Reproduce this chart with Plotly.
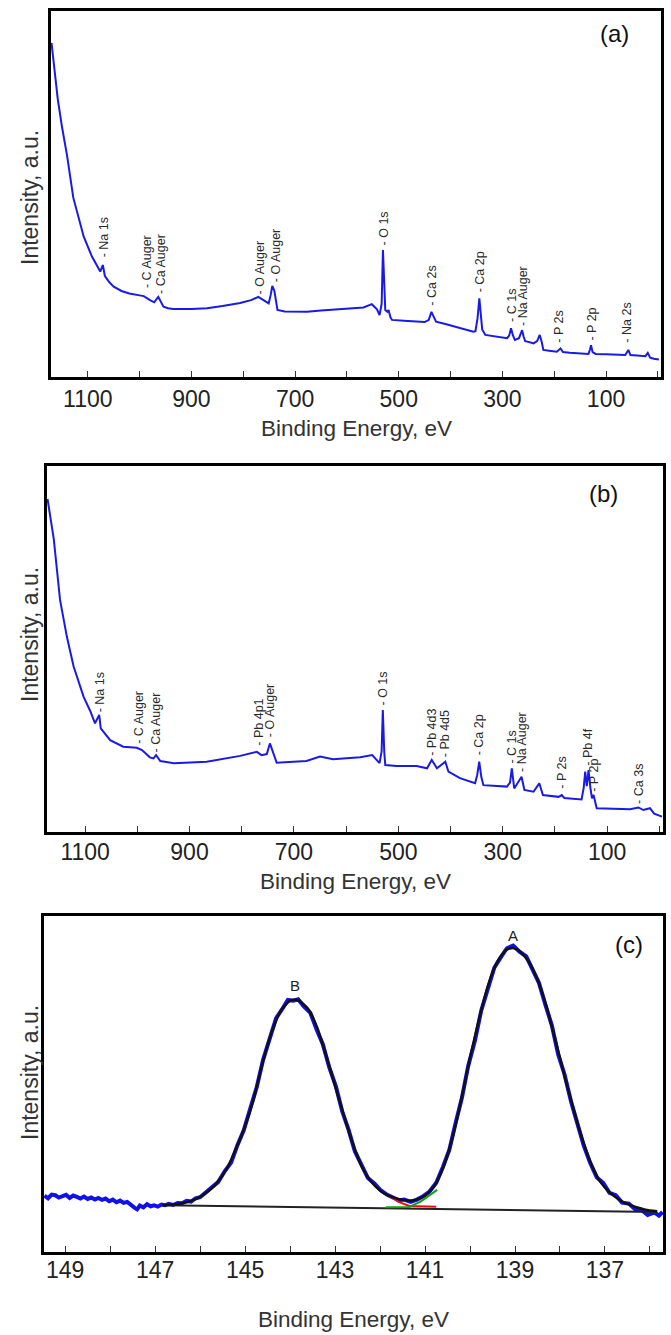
import plotly.graph_objects as go

W, H = 671, 1335

# ---------------- Panel (a) survey spectrum ----------------
be_a = [1170, 1165, 1158, 1150, 1140, 1128, 1120, 1108, 1092, 1080, 1076, 1071, 1067, 1058, 1050,
        1035, 1020, 1000, 992, 980, 972, 964, 958, 954, 945, 935, 900, 870, 840, 806, 785, 771,
        761, 751, 747, 744, 740, 734, 720, 700, 677, 650, 620, 590, 568, 552, 542, 537, 533,
        530.5, 528, 526, 522, 519.7, 516, 513, 490, 465, 450, 442, 437, 432, 428, 410, 388, 370,
        356, 352, 348, 344.5, 342, 339, 333, 310, 291, 287, 283.4, 280, 276, 268, 262, 259, 256,
        250, 240, 233, 228, 224, 221, 210, 195, 188, 183, 170, 150, 134, 131, 129, 126, 120, 100,
        80, 63, 57, 53, 40, 24, 19.5, 15, 8, -2]
int_a = [91.3, 85, 76, 68.5, 60.5, 49, 44.7, 38.4, 32.9, 29.8, 28.8, 30.6, 27.6, 25.8, 24.7,
         23.5, 22.8, 22.3, 22.1, 21.0, 20.4, 21.9, 20.2, 19.2, 18.8, 18.6, 18.6, 18.8, 19.4, 20.2,
         21.0, 21.9, 21.0, 20.1, 22.5, 24.9, 23.5, 18.3, 17.9, 17.8, 17.8, 18.2, 18.5, 18.8, 19.0,
         19.9, 18.5, 16.9, 20, 34.7, 25, 18.3, 17.8, 18.3, 16.3, 15.6, 15.4, 15.1, 15.0, 15.6, 17.8,
         16.3, 15.1, 14.5, 13.7, 13.0, 12.4, 12.5, 16, 21.5, 17, 13, 11.5, 11.0, 10.6, 11.3, 13.3,
         11.5, 10.1, 10.6, 12.8, 11.0, 9.8, 9.6, 9.2, 9.8, 11.5, 9.5, 7.4, 7.2, 6.9, 7.8, 6.8, 6.6,
         6.4, 6.3, 7.5, 8.7, 6.8, 6.3, 6.2, 6.1, 6.0, 7.4, 6.0, 5.9, 5.7, 6.6, 5.3, 5.0, 4.8]

lab_a = ["Na 1s", "C Auger", "Ca Auger", "O Auger", "O Auger", "O 1s", "Ca 2s", "Ca 2p",
         "C 1s", "Na Auger", "P 2s", "P 2p", "Na 2s"]
lab_a_x = [1067, 987, 959, 767, 737, 529, 436, 344, 283, 260, 190, 128, 59]
lab_a_y = [32.4, 24.0, 22.4, 22.4, 25.6, 35.6, 19.2, 22.9, 14.7, 13.7, 9.2, 9.7, 9.2]

# ---------------- Panel (b) survey spectrum ----------------
be_b = [1172, 1160, 1148, 1135, 1122, 1103, 1090, 1081, 1073, 1070, 1052, 1027, 1001, 991,
        976, 969, 964, 956, 930, 867, 803, 771, 762, 752, 746, 740, 733, 676, 650, 625, 573,
        550, 536, 532, 529.7, 527, 525, 503, 465, 445, 436, 426, 410, 404, 382, 353, 349, 345,
        341, 337, 292, 286, 282.6, 278, 264, 258.5, 241, 230, 223, 193, 187, 182, 149, 145, 142,
        139, 135.6, 132, 129, 126, 122, 120, 56, 40, 30.5, 18, 10, -5]
int_b = [91.0, 80.0, 63.4, 53.4, 45.2, 37.0, 33.0, 29.7, 32.0, 28.3, 25.1, 23.3, 23.0, 22.4,
         20.4, 20.1, 21.0, 19.4, 18.8, 19.2, 20.8, 21.9, 21.0, 21.3, 24.2, 21.5, 18.9, 19.4,
         20.6, 19.9, 20.4, 21.0, 18.8, 22, 33.3, 22, 18.3, 18.0, 18.0, 17.4, 19.7, 17.4, 19.2,
         16.5, 14.7, 13.3, 15.5, 19.2, 15, 12.8, 12.4, 13.5, 17.4, 11.9, 15.1, 11.5, 11.0, 13.3,
         10.1, 9.6, 10.1, 9.3, 8.9, 12, 16.5, 12.5, 16.9, 12, 9.2, 10.1, 7.5, 6.5, 6.2, 6.7, 6.0,
         6.5, 5.0, 4.2]

lab_b = ["Na 1s", "C Auger", "Ca Auger", "Pb 4p1", "O Auger", "O 1s", "Pb 4d3", "Pb 4d5",
         "Ca 2p", "C 1s", "Na Auger", "P 2s", "Pb 4f", "P 2p", "Ca 3s"]
lab_b_x = [1071, 996, 964, 766, 746, 530, 436, 410, 345, 284, 262, 187, 136, 125, 39]
lab_b_y = [32.5, 23.8, 21.5, 23.3, 25.6, 34.2, 20.6, 20.1, 20.6, 18.3, 16.0, 11.5, 17.8, 10.6, 7.4]

# ---------------- Panel (c) Pb 4f high resolution ----------------
be_c = [149.46, 149.38, 149.30, 149.22, 149.14, 149.06, 148.98, 148.90, 148.82, 148.74, 148.66,
        148.58, 148.50, 148.42, 148.34, 148.26, 148.18, 148.10, 148.02, 147.94, 147.86, 147.78,
        147.70, 147.62, 147.54, 147.46, 147.40, 147.34, 147.26, 147.18, 147.10, 147.02, 146.94,
        146.86, 146.78, 146.70, 146.60, 146.50, 146.40, 146.30, 146.20, 146.10, 146.00, 145.88,
        145.75, 145.60, 145.45, 145.31, 145.17, 145.03, 144.88, 144.74, 144.60, 144.46, 144.31,
        144.17, 144.05, 143.93, 143.82, 143.70, 143.55, 143.41, 143.27, 143.13, 142.98, 142.84,
        142.70, 142.56, 142.42, 142.27, 142.12, 141.98, 141.84, 141.70, 141.58, 141.46, 141.32,
        141.18, 141.04, 140.90, 140.75, 140.60, 140.46, 140.32, 140.18, 140.04, 139.89, 139.75,
        139.61, 139.46, 139.32, 139.18, 139.04, 138.90, 138.75, 138.61, 138.47, 138.32, 138.18,
        138.04, 137.90, 137.75, 137.61, 137.47, 137.33, 137.18, 137.04, 136.90, 136.76, 136.62,
        136.47, 136.33, 136.19, 136.05, 135.90, 135.80, 135.72]
int_c = [16.8, 16.0, 17.1, 16.9, 16.2, 16.6, 17.0, 16.1, 16.8, 16.4, 15.9, 16.5, 15.8, 16.2,
         15.6, 16.1, 15.5, 15.9, 15.1, 15.6, 14.8, 15.3, 14.6, 14.9, 13.9, 13.2, 12.7, 13.8, 13.3,
         14.2, 13.6, 13.9, 13.5, 14.1, 13.9, 14.3, 14.0, 14.6, 14.5, 15.2, 15.0, 16.0, 16.3, 17.6,
         19.3, 20.8, 24.1, 26.6, 31.8, 36.2, 42.9, 49.1, 57.2, 63.1, 69.6, 72.4, 75.0, 74.8, 75.2,
         73.2, 71.2, 66.2, 61.8, 55.0, 49.2, 41.8, 36.4, 30.0, 26.2, 22.0, 20.3, 18.3, 17.0, 16.3,
         15.4, 15.6, 14.9, 15.6, 16.6, 18.0, 20.6, 25.4, 30.4, 38.4, 45.9, 55.4, 62.9, 71.9, 78.4,
         84.6, 87.6, 90.4, 91.2, 89.4, 88.0, 84.0, 80.2, 73.4, 67.4, 58.8, 52.9, 44.6, 38.4, 31.6,
         26.6, 22.2, 20.6, 17.6, 16.9, 14.7, 14.4, 12.7, 12.5, 11.0, 11.8, 10.8, 11.9]

be_fit = [146.83, 146.6, 146.4, 146.2, 146.0, 145.8, 145.6, 145.4, 145.2, 145.0, 144.8, 144.6,
          144.4, 144.2, 144.0, 143.9, 143.8, 143.6, 143.4, 143.2, 143.0, 142.8, 142.6, 142.4,
          142.2, 142.0, 141.8, 141.6, 141.4, 141.3, 141.2, 141.0, 140.8, 140.6, 140.4, 140.2,
          140.0, 139.8, 139.6, 139.4, 139.2, 139.05, 138.9, 138.7, 138.5, 138.3, 138.1, 137.9,
          137.7, 137.5, 137.3, 137.1, 136.9, 136.7, 136.5, 136.3, 136.1, 135.84]
int_fit = [13.9, 14.1, 14.5, 15.2, 16.4, 18.3, 21.0, 25.0, 30.8, 37.5, 46.0, 56.8, 65.8, 72.0,
           74.8, 75.1, 74.8, 72.4, 66.9, 58.5, 49.5, 40.5, 32.0, 25.3, 21.0, 18.3, 16.7, 15.8,
           15.3, 15.3, 15.6, 16.8, 19.5, 25.0, 33.5, 45.0, 57.8, 69.2, 79.3, 86.2, 89.9, 90.5,
           89.6, 86.5, 81.0, 73.0, 63.0, 52.5, 42.5, 33.5, 26.0, 20.8, 17.8, 15.7, 14.3, 13.3,
           12.6, 12.1]

be_bg = [146.83, 135.84]
int_bg = [13.9, 11.9]

be_compB = [141.95, 141.83, 141.6, 141.35, 140.75]
int_compB = [17.8, 17.0, 15.0, 13.7, 13.5]
be_compA = [141.87, 141.35, 141.1, 140.9, 140.73]
int_compA = [13.3, 13.4, 15.0, 16.8, 18.5]

peak_names = ["A", "B"]
peak_x = [139.04, 143.9]
peak_y = [94.3, 79.2]

panel_tags = ["(a)", "(b)", "(c)"]

# ---------------- layout geometry (pixels) ----------------
boxes = {  # left, right, top, bottom
    1: (51, 661, 11, 377),
    2: (47, 663, 466, 832),
    3: (44, 663, 916, 1252),
}

FONT = "Arial, Liberation Sans, Helvetica, sans-serif"
BLUE = "#1a1ae6"

fig = go.Figure()

fig.add_trace(go.Scatter(x=be_a, y=int_a, mode="lines", line=dict(color=BLUE, width=2),
                         xaxis="x", yaxis="y", showlegend=False))
fig.add_trace(go.Scatter(x=be_b, y=int_b, mode="lines", line=dict(color=BLUE, width=2),
                         xaxis="x2", yaxis="y2", showlegend=False))
fig.add_trace(go.Scatter(x=be_c, y=int_c, mode="lines", line=dict(color="#1010e8", width=4),
                         xaxis="x3", yaxis="y3", showlegend=False))
fig.add_trace(go.Scatter(x=be_bg, y=int_bg, mode="lines", line=dict(color="#222222", width=2),
                         xaxis="x3", yaxis="y3", showlegend=False))
fig.add_trace(go.Scatter(x=be_compB, y=int_compB, mode="lines", line=dict(color="#e01010", width=2),
                         xaxis="x3", yaxis="y3", showlegend=False))
fig.add_trace(go.Scatter(x=be_compA, y=int_compA, mode="lines", line=dict(color="#10a010", width=2),
                         xaxis="x3", yaxis="y3", showlegend=False))
fig.add_trace(go.Scatter(x=be_fit, y=int_fit, mode="lines",
                         line=dict(color="#111111", width=2.5, shape="spline", smoothing=0.6),
                         xaxis="x3", yaxis="y3", showlegend=False))


def px_x(p):
    return p / W


def px_y(p):
    return 1 - p / H


def xaxis_cfg(k, rng, dtick, tick0, minor_dtick, standoff=0):
    l, r, t, b = boxes[k]
    return dict(domain=[px_x(l), px_x(r)], range=rng, anchor="y" if k == 1 else f"y{k}",
                showline=True, linewidth=3, linecolor="black", mirror=True,
                showgrid=False, zeroline=False,
                ticks="inside", ticklen=6, tickwidth=1.3, tickcolor="#333",
                dtick=dtick, tick0=tick0, ticklabelstandoff=standoff,
                minor=dict(dtick=minor_dtick, tick0=tick0, ticks="inside", ticklen=6,
                           tickwidth=1.3, tickcolor="#333", showgrid=False),
                tickfont=dict(family=FONT, size=23, color="#222"),
                automargin=False)


def yaxis_cfg(k):
    l, r, t, b = boxes[k]
    return dict(domain=[px_y(b), px_y(t)], range=[0, 100], anchor="x" if k == 1 else f"x{k}",
                showline=True, linewidth=3, linecolor="black", mirror=True,
                showgrid=False, zeroline=False, showticklabels=False, ticks="",
                automargin=False)


layout = dict(
    width=W, height=H, margin=dict(l=0, r=0, t=0, b=0),
    paper_bgcolor="white", plot_bgcolor="white", showlegend=False,
    xaxis=xaxis_cfg(1, [1171, -6], 200, 100, 100, -1),
    xaxis2=xaxis_cfg(2, [1173, -7], 200, 100, 100, -3),
    xaxis3=xaxis_cfg(3, [149.47, 135.71], 2, 137, 1, -5),
    yaxis=yaxis_cfg(1), yaxis2=yaxis_cfg(2), yaxis3=yaxis_cfg(3),
)
fig.update_layout(**layout)

ann = []
# peak labels
for names, xs, ys, xr, yr in [(lab_a, lab_a_x, lab_a_y, "x", "y"),
                              (lab_b, lab_b_x, lab_b_y, "x2", "y2")]:
    for n, xv, yv in zip(names, xs, ys):
        ann.append(dict(text="- " + n, x=xv, y=yv, xref=xr, yref=yr, textangle=-90,
                        xanchor="center", yanchor="bottom", showarrow=False,
                        font=dict(family=FONT, size=12.5, color="#2a2a2a"), borderpad=0))
for n, xv, yv in zip(peak_names, peak_x, peak_y):
    ann.append(dict(text=n, x=xv, y=yv, xref="x3", yref="y3", showarrow=False,
                    font=dict(family=FONT, size=15, color="#222")))

# axis titles, panel tags
ytitle_y = [198, 635, 1073]
xtitle_y = [429, 881, 1319]
tag_pos = [(614, 33), (603, 493), (629, 945)]
for i in range(3):
    l, r, t, b = boxes[i + 1]
    ann.append(dict(text="Intensity, a.u.", x=px_x(30), y=px_y(ytitle_y[i]), xref="paper",
                    yref="paper", textangle=-90, showarrow=False, xanchor="center",
                    yanchor="middle", font=dict(family=FONT, size=23, color="#333")))
    ann.append(dict(text="Binding Energy, eV", x=px_x((l + r) / 2), y=px_y(xtitle_y[i]),
                    xref="paper", yref="paper", showarrow=False, xanchor="center",
                    yanchor="middle", borderpad=0,
                    font=dict(family=FONT, size=22.5, color="#333")))
    ann.append(dict(text=panel_tags[i], x=px_x(tag_pos[i][0]), y=px_y(tag_pos[i][1]),
                    xref="paper", yref="paper", showarrow=False, xanchor="center",
                    yanchor="middle", font=dict(family=FONT, size=24, color="#111")))

fig.update_layout(annotations=ann)
fig.write_html("out.html")
